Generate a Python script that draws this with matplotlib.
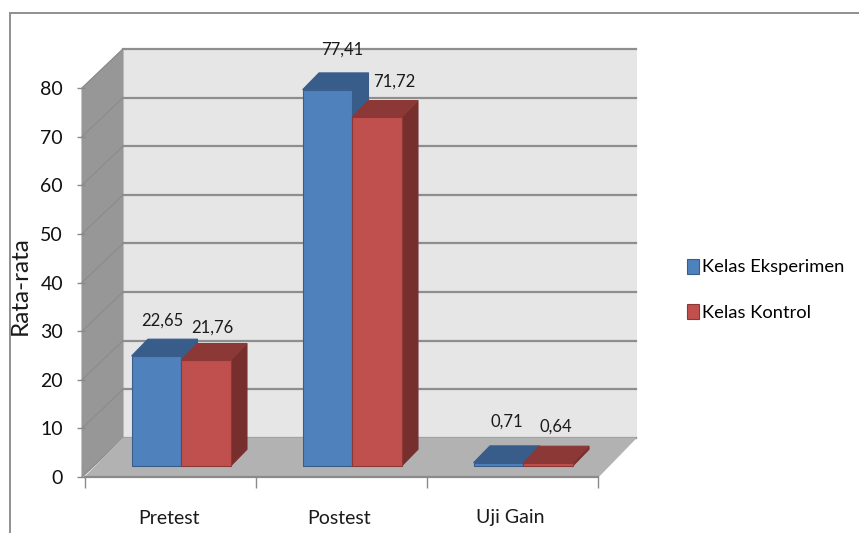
import matplotlib

matplotlib.use("Agg")

import matplotlib.pyplot as plt
from matplotlib.lines import Line2D
from matplotlib.patches import Polygon

categories = ["Pretest", "Postest", "Uji Gain"]
eksperimen = [22.65, 77.41, 0.71]
kontrol = [21.76, 71.72, 0.64]
eksperimen_labels = ["22,65", "77,41", "0,71"]
kontrol_labels = ["21,76", "71,72", "0,64"]
y_ticks = [0, 10, 20, 30, 40, 50, 60, 70, 80]

W, H = 859, 533
FONT = "Lato"

# oblique depth of the fake 3D box, in data units
DX = 38 / 171
DY = 39 / 4.8625
BAR_W = 49.5 / 171
FRONT = 0.28
BACK = 0.71
WALL_LEFT = -3 / 171

# pixel offsets of the value labels from the bar's front top
label_off_a = [(6, 35), (14.5, 40), (8, 41)]
label_off_b = [(6.5, 33), (17.5, 35.5), (8, 36)]

plt.rcParams["font.family"] = FONT

fig = plt.figure(figsize=(W / 100, H / 100), dpi=100, facecolor="white")
ax = fig.add_axes([85 / W, (H - 477) / H, 513 / W, 389 / H])
ax.set_xlim(0, 3)
ax.set_ylim(0, 80)
ax.patch.set_visible(False)
for s in ax.spines.values():
    s.set_visible(False)


def poly(pts, color, z, edge=None):
    ax.add_patch(Polygon(pts, closed=True, facecolor=color, edgecolor=edge or color,
                         linewidth=0.8, zorder=z, clip_on=False))


# walls and floor
poly([(DX, 0 + DY), (3 + DX, DY), (3 + DX, 80 + DY), (DX, 80 + DY)], "#e6e6e6", 1)
poly([(WALL_LEFT, 0), (DX, DY), (DX, 80 + DY), (WALL_LEFT, 80)], "#979797", 1)
poly([(0, 0), (3, 0), (3 + DX, DY), (DX, DY)], "#b2b2b2", 2)

# gridlines: strong on the back wall, faint on the left wall
for v in y_ticks:
    ax.plot([DX, 3 + DX], [v + DY, v + DY], color="#8e8e8e", lw=1.6,
            zorder=1.5, clip_on=False)
    ax.plot([WALL_LEFT, DX], [v, v + DY], color="#8b8b8b", lw=0.8,
            zorder=1.5, clip_on=False)

ax.plot([0, 3], [0, 0], color="#8a8a8a", lw=1.6, zorder=3, clip_on=False)


def bars_3d(offset, values, front, top, side, z, label):
    xs = [i + 0.5 + offset + FRONT * DX for i in range(len(values))]
    base = FRONT * DY
    d = (BACK - FRONT)
    for x, v in zip(xs, values):
        l, r = x - BAR_W / 2, x + BAR_W / 2
        poly([(r, base), (r + d * DX, base + d * DY), (r + d * DX, base + v + d * DY), (r, base + v)],
             side, z)
        poly([(l, base + v), (r, base + v), (r + d * DX, base + v + d * DY), (l + d * DX, base + v + d * DY)],
             top, z)
    return ax.bar(xs, values, BAR_W, bottom=base, color=front, edgecolor=top,
                  linewidth=0.8, zorder=z + 0.1, label=label, clip_on=False)


bars_a = bars_3d(-BAR_W / 2, eksperimen, "#4f81bd", "#385d8a", "#385d8a", 4, "Kelas Eksperimen")
bars_b = bars_3d(BAR_W / 2, kontrol, "#c0504d", "#8c3836", "#772f2d", 5, "Kelas Kontrol")

for bars, texts, offs in [(bars_a, eksperimen_labels, label_off_a), (bars_b, kontrol_labels, label_off_b)]:
    for b, t, o in zip(bars, texts, offs):
        ax.annotate(t, (b.get_x() + b.get_width() / 2, b.get_y() + b.get_height()), xytext=o,
                    textcoords="offset pixels", ha="center", va="center", fontsize=12,
                    color="#1a1a1a", zorder=8, annotation_clip=False)

ax.set_yticks(y_ticks)
ax.set_yticklabels([str(v) for v in y_ticks], fontsize=14, color="#111111")
ax.set_xticks([0, 1, 2, 3])
ax.set_xticklabels([])
ax.tick_params(axis="y", length=5.8, width=1, color="#8a8a8a", pad=10)
ax.tick_params(axis="x", length=8, width=1, color="#8a8a8a")

# centred category names sit between the tick marks
for i, c in enumerate(categories):
    ax.annotate(c, (i + 0.5, 0), xytext=(-2, -41), textcoords="offset pixels", ha="center",
                va="center", fontsize=14, color="#1a1a1a", annotation_clip=False)

fig.text(20 / W, 1 - 286 / H, "Rata-rata", rotation=90, ha="center", va="center",
         fontsize=17.5, color="#1a1a1a")

fig.legend(handles=[bars_a, bars_b], loc="upper left", bbox_to_anchor=(681 / W, 1 - 253 / H),
           frameon=False, fontsize=13.2, handlelength=0.67, handleheight=0.9, handletextpad=0.2,
           labelspacing=1.55, borderpad=0.3, borderaxespad=0)

# chart frame, cut off by the screenshot
fig.add_artist(Line2D([9.5 / W, 1], [1 - 13 / H, 1 - 13 / H], color="#8f8f8f", lw=1.4))
fig.add_artist(Line2D([9.5 / W, 9.5 / W], [0, 1 - 13 / H], color="#8f8f8f", lw=1.4))

fig.savefig("out.png", dpi=100, facecolor="white")
